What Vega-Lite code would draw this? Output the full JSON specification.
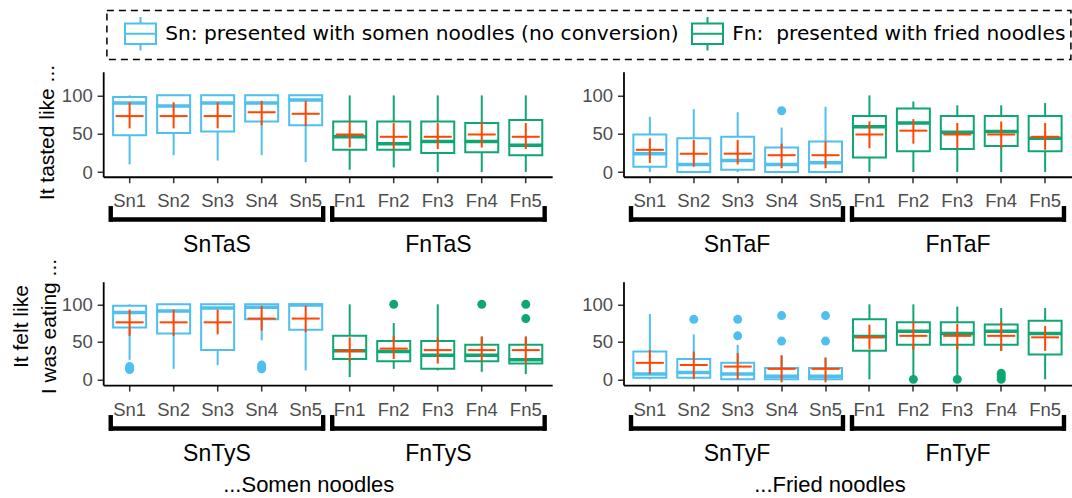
{
  "$schema": "https://vega.github.io/schema/vega-lite/v6.json",
  "padding": {"left": 10.2, "top": 9.75, "right": 0, "bottom": 0},
  "autosize": {"type": "pad"},
  "columns": 2,
  "bounds": "flush",
  "align": "each",
  "spacing": {"row": 10, "column": 71.3},
  "config": {
    "view": {"stroke": null},
    "font": "Liberation Sans",
    "axis": {"labelFont": "Liberation Sans", "titleFont": "Liberation Sans", "labelFontSize": 18.5, "labelColor": "#4D4D4D", "domainColor": "black", "domainWidth": 1.8, "tickColor": "#333333", "tickWidth": 1.5, "titleFontWeight": "normal", "titleFontSize": 21, "titleColor": "black", "grid": false},
    "text": {"font": "Liberation Sans"}
  },
  "datasets": {
    "boxes": [
      {"p":"TS","item":"Sn1","g":"Sn","lo":10,"q1":48,"med":90,"q3":98,"hi":100,"mean":73,"clo":57,"chi":91},
      {"p":"TS","item":"Sn2","g":"Sn","lo":22,"q1":51,"med":86,"q3":100,"hi":100,"mean":73,"clo":57,"chi":91},
      {"p":"TS","item":"Sn3","g":"Sn","lo":15,"q1":53,"med":90,"q3":100,"hi":100,"mean":73,"clo":57,"chi":91},
      {"p":"TS","item":"Sn4","g":"Sn","lo":22,"q1":66,"med":90,"q3":100,"hi":100,"mean":78,"clo":61,"chi":93},
      {"p":"TS","item":"Sn5","g":"Sn","lo":13,"q1":61,"med":94,"q3":100,"hi":100,"mean":76,"clo":60,"chi":93},
      {"p":"TS","item":"Fn1","g":"Fn","lo":3,"q1":29,"med":46,"q3":66,"hi":100,"mean":49,"clo":32,"chi":66},
      {"p":"TS","item":"Fn2","g":"Fn","lo":6,"q1":29,"med":37,"q3":66,"hi":100,"mean":46,"clo":30,"chi":64},
      {"p":"TS","item":"Fn3","g":"Fn","lo":0,"q1":25,"med":40,"q3":66,"hi":100,"mean":46,"clo":30,"chi":64},
      {"p":"TS","item":"Fn4","g":"Fn","lo":0,"q1":26,"med":40,"q3":64,"hi":100,"mean":49,"clo":32,"chi":65},
      {"p":"TS","item":"Fn5","g":"Fn","lo":0,"q1":22,"med":35,"q3":68,"hi":100,"mean":46,"clo":30,"chi":64},
      {"p":"TF","item":"Sn1","g":"Sn","lo":0,"q1":7,"med":24,"q3":49,"hi":72,"mean":29,"clo":12,"chi":44},
      {"p":"TF","item":"Sn2","g":"Sn","lo":0,"q1":0,"med":10,"q3":44,"hi":82,"mean":24,"clo":7,"chi":42},
      {"p":"TF","item":"Sn3","g":"Sn","lo":0,"q1":3,"med":15,"q3":46,"hi":78,"mean":24,"clo":10,"chi":42},
      {"p":"TF","item":"Sn4","g":"Sn","lo":0,"q1":0,"med":10,"q3":32,"hi":58,"mean":22,"clo":5,"chi":37},
      {"p":"TF","item":"Sn5","g":"Sn","lo":0,"q1":0,"med":12,"q3":40,"hi":85,"mean":22,"clo":5,"chi":40},
      {"p":"TF","item":"Fn1","g":"Fn","lo":0,"q1":19,"med":59,"q3":73,"hi":100,"mean":49,"clo":31,"chi":66},
      {"p":"TF","item":"Fn2","g":"Fn","lo":0,"q1":27,"med":64,"q3":83,"hi":92,"mean":54,"clo":37,"chi":69},
      {"p":"TF","item":"Fn3","g":"Fn","lo":0,"q1":30,"med":52,"q3":73,"hi":87,"mean":49,"clo":31,"chi":64},
      {"p":"TF","item":"Fn4","g":"Fn","lo":0,"q1":34,"med":53,"q3":73,"hi":87,"mean":49,"clo":31,"chi":66},
      {"p":"TF","item":"Fn5","g":"Fn","lo":0,"q1":27,"med":44,"q3":73,"hi":90,"mean":46,"clo":29,"chi":64},
      {"p":"YS","item":"Sn1","g":"Sn","lo":26,"q1":69,"med":89,"q3":98,"hi":100,"mean":76,"clo":58,"chi":93},
      {"p":"YS","item":"Sn2","g":"Sn","lo":14,"q1":61,"med":91,"q3":100,"hi":100,"mean":76,"clo":58,"chi":93},
      {"p":"YS","item":"Sn3","g":"Sn","lo":19,"q1":39,"med":95,"q3":100,"hi":100,"mean":76,"clo":60,"chi":93},
      {"p":"YS","item":"Sn4","g":"Sn","lo":52,"q1":80,"med":96,"q3":100,"hi":100,"mean":81,"clo":65,"chi":98},
      {"p":"YS","item":"Sn5","g":"Sn","lo":12,"q1":66,"med":99,"q3":100,"hi":100,"mean":81,"clo":63,"chi":98},
      {"p":"YS","item":"Fn1","g":"Fn","lo":3,"q1":27,"med":38,"q3":58,"hi":100,"mean":38,"clo":24,"chi":56},
      {"p":"YS","item":"Fn2","g":"Fn","lo":14,"q1":24,"med":37,"q3":51,"hi":75,"mean":41,"clo":27,"chi":58},
      {"p":"YS","item":"Fn3","g":"Fn","lo":12,"q1":14,"med":32,"q3":51,"hi":100,"mean":39,"clo":21,"chi":56},
      {"p":"YS","item":"Fn4","g":"Fn","lo":10,"q1":24,"med":32,"q3":46,"hi":57,"mean":39,"clo":24,"chi":57},
      {"p":"YS","item":"Fn5","g":"Fn","lo":7,"q1":21,"med":26,"q3":46,"hi":57,"mean":39,"clo":21,"chi":57},
      {"p":"YF","item":"Sn1","g":"Sn","lo":0,"q1":2,"med":7,"q3":37,"hi":87,"mean":22,"clo":7,"chi":39},
      {"p":"YF","item":"Sn2","g":"Sn","lo":0,"q1":2,"med":9,"q3":27,"hi":60,"mean":19,"clo":1,"chi":37},
      {"p":"YF","item":"Sn3","g":"Sn","lo":0,"q1":0,"med":7,"q3":22,"hi":46,"mean":17,"clo":0,"chi":35},
      {"p":"YF","item":"Sn4","g":"Sn","lo":0,"q1":0,"med":4,"q3":15,"hi":32,"mean":14,"clo":-4,"chi":32},
      {"p":"YF","item":"Sn5","g":"Sn","lo":0,"q1":0,"med":4,"q3":15,"hi":29,"mean":14,"clo":-4,"chi":29},
      {"p":"YF","item":"Fn1","g":"Fn","lo":0,"q1":38,"med":57,"q3":80,"hi":100,"mean":56,"clo":40,"chi":73},
      {"p":"YF","item":"Fn2","g":"Fn","lo":4,"q1":46,"med":64,"q3":76,"hi":100,"mean":58,"clo":39,"chi":77},
      {"p":"YF","item":"Fn3","g":"Fn","lo":4,"q1":46,"med":61,"q3":76,"hi":97,"mean":58,"clo":40,"chi":74},
      {"p":"YF","item":"Fn4","g":"Fn","lo":38,"q1":46,"med":64,"q3":73,"hi":95,"mean":58,"clo":38,"chi":77},
      {"p":"YF","item":"Fn5","g":"Fn","lo":0,"q1":33,"med":61,"q3":78,"hi":95,"mean":56,"clo":38,"chi":71}
    ],
    "outl": [
      {"p":"TF","item":"Sn4","g":"Sn","v":80},
      {"p":"YS","item":"Sn1","g":"Sn","v":13},
      {"p":"YS","item":"Sn1","g":"Sn","v":15},
      {"p":"YS","item":"Sn1","g":"Sn","v":17},
      {"p":"YS","item":"Sn4","g":"Sn","v":14},
      {"p":"YS","item":"Sn4","g":"Sn","v":16},
      {"p":"YS","item":"Sn4","g":"Sn","v":19},
      {"p":"YS","item":"Fn2","g":"Fn","v":100},
      {"p":"YS","item":"Fn4","g":"Fn","v":100},
      {"p":"YS","item":"Fn5","g":"Fn","v":100},
      {"p":"YS","item":"Fn5","g":"Fn","v":81},
      {"p":"YF","item":"Sn2","g":"Sn","v":80},
      {"p":"YF","item":"Sn3","g":"Sn","v":80},
      {"p":"YF","item":"Sn3","g":"Sn","v":58},
      {"p":"YF","item":"Sn4","g":"Sn","v":85},
      {"p":"YF","item":"Sn4","g":"Sn","v":51},
      {"p":"YF","item":"Sn5","g":"Sn","v":85},
      {"p":"YF","item":"Sn5","g":"Sn","v":51},
      {"p":"YF","item":"Fn2","g":"Fn","v":0},
      {"p":"YF","item":"Fn3","g":"Fn","v":0},
      {"p":"YF","item":"Fn4","g":"Fn","v":0},
      {"p":"YF","item":"Fn4","g":"Fn","v":3},
      {"p":"YF","item":"Fn4","g":"Fn","v":6},
      {"p":"YF","item":"Fn4","g":"Fn","v":8}
    ],
    "grps": [
      {"p":"TS","grp":"SnTaS"},{"p":"TS","grp":"FnTaS"},
      {"p":"TF","grp":"SnTaF"},{"p":"TF","grp":"FnTaF"},
      {"p":"YS","grp":"SnTyS"},{"p":"YS","grp":"FnTyS"},
      {"p":"YF","grp":"SnTyF"},{"p":"YF","grp":"FnTyF"}
    ]
  },
  "concat": [
    {
      "width": 449, "height": 105,
      "encoding": {"x": {"field": "item", "type": "nominal", "scale": {"type": "band", "domain": ["Sn1","Sn2","Sn3","Sn4","Sn5","Fn1","Fn2","Fn3","Fn4","Fn5"], "paddingInner": 0.25, "paddingOuter": 0.225}, "axis": {"title": null, "labelAngle": 0, "tickSize": 6, "labelPadding": 9}}},
      "layer": [
        {"data": {"name": "boxes"}, "transform": [{"filter": "datum.p == 'TS'"}], "mark": {"type": "rule", "strokeWidth": 2}, "encoding": {
          "y": {"field": "lo", "type": "quantitative", "scale": {"domain": [-6.1, 130.8], "nice": false, "zero": false}, "axis": {"title": "It tasted like ...", "values": [0, 50, 100], "tickSize": 6, "labelPadding": 5, "titleX": -55.3, "titleY": 60.3, "titleBaseline": "middle"}},
          "y2": {"field": "q1"},
          "color": {"field": "g", "type": "nominal", "title": null, "scale": {"domain": ["Sn", "Fn"], "range": ["#4FBFEF", "#10A674"]}, "legend": {
            "orient": "none", "legendX": 3.7, "legendY": -61.2, "direction": "horizontal", "padding": 5, "strokeColor": "black",
            "symbolType": "M-0.93,-0.62H0.93V0.62H-0.93Z M-0.93,0H0.93 M0,-0.62V-1 M0,0.62V1",
            "symbolSize": 1110, "symbolStrokeWidth": 2, "symbolFillColor": "transparent", "symbolOffset": 10.6,
            "labelFont": "DejaVu Sans", "labelFontSize": 20.2, "labelColor": "black", "labelLimit": 2000, "labelOffset": 6.7, "columnPadding": 0,
            "labelExpr": "datum.value == 'Sn' ? 'Sn: presented with somen noodles (no conversion)' : 'Fn:\u00a0 presented with fried noodles'",
            "encode": {"legend": {"update": {"strokeDash": {"value": [7, 5]}, "strokeWidth": {"value": 1.5}}}, "symbols": {"update": {"fill": {"value": "transparent"}, "fillOpacity": {"value": 0}, "stroke": {"scale": "color", "field": "value"}}}}
          }}
        }},
        {"data": {"name": "boxes"}, "transform": [{"filter": "datum.p == 'TS'"}], "mark": {"type": "rule", "strokeWidth": 2}, "encoding": {"y": {"field": "q3", "type": "quantitative", "axis": {"title": "It tasted like ...", "values": [0, 50, 100], "tickSize": 6, "labelPadding": 5, "titleX": -55.3, "titleY": 60.3, "titleBaseline": "middle"}}, "y2": {"field": "hi"}, "color": {"field": "g", "type": "nominal", "title": null}}},
        {"data": {"name": "boxes"}, "transform": [{"filter": "datum.p == 'TS'"}], "mark": {"type": "bar", "filled": false, "strokeWidth": 2, "opacity": 1}, "encoding": {"y": {"field": "q1", "type": "quantitative", "axis": {"title": "It tasted like ...", "values": [0, 50, 100], "tickSize": 6, "labelPadding": 5, "titleX": -55.3, "titleY": 60.3, "titleBaseline": "middle"}}, "y2": {"field": "q3"}, "color": {"field": "g", "type": "nominal", "title": null}}},
        {"data": {"name": "boxes"}, "transform": [{"filter": "datum.p == 'TS'"}], "mark": {"type": "tick", "thickness": 3.5, "size": 34, "opacity": 1}, "encoding": {"y": {"field": "med", "type": "quantitative", "axis": {"title": "It tasted like ...", "values": [0, 50, 100], "tickSize": 6, "labelPadding": 5, "titleX": -55.3, "titleY": 60.3, "titleBaseline": "middle"}}, "color": {"field": "g", "type": "nominal", "title": null}}},
        {"data": {"name": "boxes"}, "transform": [{"filter": "datum.p == 'TS'"}], "mark": {"type": "rule", "strokeWidth": 2, "color": "#FF4500"}, "encoding": {"y": {"field": "clo", "type": "quantitative", "axis": {"title": "It tasted like ...", "values": [0, 50, 100], "tickSize": 6, "labelPadding": 5, "titleX": -55.3, "titleY": 60.3, "titleBaseline": "middle"}}, "y2": {"field": "chi"}}},
        {"data": {"name": "boxes"}, "transform": [{"filter": "datum.p == 'TS'"}], "mark": {"type": "tick", "thickness": 2, "size": 28, "color": "#FF4500", "opacity": 1}, "encoding": {"y": {"field": "mean", "type": "quantitative", "axis": {"title": "It tasted like ...", "values": [0, 50, 100], "tickSize": 6, "labelPadding": 5, "titleX": -55.3, "titleY": 60.3, "titleBaseline": "middle"}}}}
      ]
    },
    {
      "width": 448, "height": 105,
      "encoding": {"x": {"field": "item", "type": "nominal", "scale": {"type": "band", "domain": ["Sn1","Sn2","Sn3","Sn4","Sn5","Fn1","Fn2","Fn3","Fn4","Fn5"], "paddingInner": 0.25, "paddingOuter": 0.225}, "axis": {"title": null, "labelAngle": 0, "tickSize": 6, "labelPadding": 9}}},
      "layer": [
        {"data": {"name": "boxes"}, "transform": [{"filter": "datum.p == 'TF'"}], "mark": {"type": "rule", "strokeWidth": 2}, "encoding": {
          "y": {"field": "lo", "type": "quantitative", "scale": {"domain": [-6.1, 130.8], "nice": false, "zero": false}, "axis": {"title": null, "values": [0, 50, 100], "tickSize": 6, "labelPadding": 5}},
          "y2": {"field": "q1"}, "color": {"field": "g", "type": "nominal", "title": null}}},
        {"data": {"name": "boxes"}, "transform": [{"filter": "datum.p == 'TF'"}], "mark": {"type": "rule", "strokeWidth": 2}, "encoding": {"y": {"field": "q3", "type": "quantitative", "axis": {"title": null, "values": [0, 50, 100], "tickSize": 6, "labelPadding": 5}}, "y2": {"field": "hi"}, "color": {"field": "g", "type": "nominal", "title": null}}},
        {"data": {"name": "boxes"}, "transform": [{"filter": "datum.p == 'TF'"}], "mark": {"type": "bar", "filled": false, "strokeWidth": 2, "opacity": 1}, "encoding": {"y": {"field": "q1", "type": "quantitative", "axis": {"title": null, "values": [0, 50, 100], "tickSize": 6, "labelPadding": 5}}, "y2": {"field": "q3"}, "color": {"field": "g", "type": "nominal", "title": null}}},
        {"data": {"name": "boxes"}, "transform": [{"filter": "datum.p == 'TF'"}], "mark": {"type": "tick", "thickness": 3.5, "size": 34, "opacity": 1}, "encoding": {"y": {"field": "med", "type": "quantitative", "axis": {"title": null, "values": [0, 50, 100], "tickSize": 6, "labelPadding": 5}}, "color": {"field": "g", "type": "nominal", "title": null}}},
        {"data": {"name": "boxes"}, "transform": [{"filter": "datum.p == 'TF'"}], "mark": {"type": "rule", "strokeWidth": 2, "color": "#FF4500"}, "encoding": {"y": {"field": "clo", "type": "quantitative", "axis": {"title": null, "values": [0, 50, 100], "tickSize": 6, "labelPadding": 5}}, "y2": {"field": "chi"}}},
        {"data": {"name": "boxes"}, "transform": [{"filter": "datum.p == 'TF'"}], "mark": {"type": "tick", "thickness": 2, "size": 28, "color": "#FF4500", "opacity": 1}, "encoding": {"y": {"field": "mean", "type": "quantitative", "axis": {"title": null, "values": [0, 50, 100], "tickSize": 6, "labelPadding": 5}}}},
        {"data": {"name": "outl"}, "transform": [{"filter": "datum.p == 'TF'"}], "mark": {"type": "circle", "size": 80, "opacity": 1}, "encoding": {"y": {"field": "v", "type": "quantitative", "axis": {"title": null, "values": [0, 50, 100], "tickSize": 6, "labelPadding": 5}}, "color": {"field": "g", "type": "nominal", "title": null}}}
      ]
    },
    {
      "width": 449, "height": 85,
      "data": {"name": "grps"}, "transform": [{"filter": "datum.p == 'TS'"}],
      "encoding": {"x": {"field": "grp", "type": "nominal", "scale": {"type": "band", "domain": ["SnTaS", "FnTaS"], "paddingInner": 0.0408, "paddingOuter": 0.034}, "axis": null}},
      "layer": [
        {"mark": {"type": "tick", "thickness": 4.4, "size": 216, "color": "black", "opacity": 1}, "encoding": {"y": {"datum": 0.386, "type": "quantitative", "scale": {"domain": [0, 1], "reverse": true}, "axis": null}}},
        {"mark": {"type": "rule", "strokeWidth": 4.4, "color": "black"}, "encoding": {"x": {"field": "grp", "type": "nominal", "bandPosition": 0, "axis": null}, "y": {"datum": 0.227, "type": "quantitative", "axis": null}, "y2": {"datum": 0.412}}},
        {"mark": {"type": "rule", "strokeWidth": 4.4, "color": "black"}, "encoding": {"x": {"field": "grp", "type": "nominal", "bandPosition": 1, "axis": null}, "y": {"datum": 0.227, "type": "quantitative", "axis": null}, "y2": {"datum": 0.412}}},
        {"mark": {"type": "text", "fontSize": 23, "color": "black", "baseline": "middle"}, "encoding": {"y": {"datum": 0.689, "type": "quantitative", "axis": null}, "text": {"field": "grp"}}}
      ]
    },
    {
      "width": 448, "height": 85,
      "data": {"name": "grps"}, "transform": [{"filter": "datum.p == 'TF'"}],
      "encoding": {"x": {"field": "grp", "type": "nominal", "scale": {"type": "band", "domain": ["SnTaF", "FnTaF"], "paddingInner": 0.0408, "paddingOuter": 0.034}, "axis": null}},
      "layer": [
        {"mark": {"type": "tick", "thickness": 4.4, "size": 216, "color": "black", "opacity": 1}, "encoding": {"y": {"datum": 0.386, "type": "quantitative", "scale": {"domain": [0, 1], "reverse": true}, "axis": null}}},
        {"mark": {"type": "rule", "strokeWidth": 4.4, "color": "black"}, "encoding": {"x": {"field": "grp", "type": "nominal", "bandPosition": 0, "axis": null}, "y": {"datum": 0.227, "type": "quantitative", "axis": null}, "y2": {"datum": 0.412}}},
        {"mark": {"type": "rule", "strokeWidth": 4.4, "color": "black"}, "encoding": {"x": {"field": "grp", "type": "nominal", "bandPosition": 1, "axis": null}, "y": {"datum": 0.227, "type": "quantitative", "axis": null}, "y2": {"datum": 0.412}}},
        {"mark": {"type": "text", "fontSize": 23, "color": "black", "baseline": "middle"}, "encoding": {"y": {"datum": 0.689, "type": "quantitative", "axis": null}, "text": {"field": "grp"}}}
      ]
    },
    {
      "width": 449, "height": 103.3,
      "encoding": {"x": {"field": "item", "type": "nominal", "scale": {"type": "band", "domain": ["Sn1","Sn2","Sn3","Sn4","Sn5","Fn1","Fn2","Fn3","Fn4","Fn5"], "paddingInner": 0.25, "paddingOuter": 0.225}, "axis": {"title": null, "labelAngle": 0, "tickSize": 6, "labelPadding": 9}}},
      "layer": [
        {"data": {"name": "boxes"}, "transform": [{"filter": "datum.p == 'YS'"}], "mark": {"type": "rule", "strokeWidth": 2}, "encoding": {
          "y": {"field": "lo", "type": "quantitative", "scale": {"domain": [-7.6, 130.1], "nice": false, "zero": false}, "axis": {"title": ["It felt like", "I was eating ..."], "values": [0, 50, 100], "tickSize": 6, "labelPadding": 5, "titleX": -82, "titleY": 44.3, "titleBaseline": "middle", "titleLineHeight": 28}},
          "y2": {"field": "q1"}, "color": {"field": "g", "type": "nominal", "title": null}}},
        {"data": {"name": "boxes"}, "transform": [{"filter": "datum.p == 'YS'"}], "mark": {"type": "rule", "strokeWidth": 2}, "encoding": {"y": {"field": "q3", "type": "quantitative", "axis": {"title": ["It felt like", "I was eating ..."], "values": [0, 50, 100], "tickSize": 6, "labelPadding": 5, "titleX": -82, "titleY": 44.3, "titleBaseline": "middle", "titleLineHeight": 28}}, "y2": {"field": "hi"}, "color": {"field": "g", "type": "nominal", "title": null}}},
        {"data": {"name": "boxes"}, "transform": [{"filter": "datum.p == 'YS'"}], "mark": {"type": "bar", "filled": false, "strokeWidth": 2, "opacity": 1}, "encoding": {"y": {"field": "q1", "type": "quantitative", "axis": {"title": ["It felt like", "I was eating ..."], "values": [0, 50, 100], "tickSize": 6, "labelPadding": 5, "titleX": -82, "titleY": 44.3, "titleBaseline": "middle", "titleLineHeight": 28}}, "y2": {"field": "q3"}, "color": {"field": "g", "type": "nominal", "title": null}}},
        {"data": {"name": "boxes"}, "transform": [{"filter": "datum.p == 'YS'"}], "mark": {"type": "tick", "thickness": 3.5, "size": 34, "opacity": 1}, "encoding": {"y": {"field": "med", "type": "quantitative", "axis": {"title": ["It felt like", "I was eating ..."], "values": [0, 50, 100], "tickSize": 6, "labelPadding": 5, "titleX": -82, "titleY": 44.3, "titleBaseline": "middle", "titleLineHeight": 28}}, "color": {"field": "g", "type": "nominal", "title": null}}},
        {"data": {"name": "boxes"}, "transform": [{"filter": "datum.p == 'YS'"}], "mark": {"type": "rule", "strokeWidth": 2, "color": "#FF4500"}, "encoding": {"y": {"field": "clo", "type": "quantitative", "axis": {"title": ["It felt like", "I was eating ..."], "values": [0, 50, 100], "tickSize": 6, "labelPadding": 5, "titleX": -82, "titleY": 44.3, "titleBaseline": "middle", "titleLineHeight": 28}}, "y2": {"field": "chi"}}},
        {"data": {"name": "boxes"}, "transform": [{"filter": "datum.p == 'YS'"}], "mark": {"type": "tick", "thickness": 2, "size": 28, "color": "#FF4500", "opacity": 1}, "encoding": {"y": {"field": "mean", "type": "quantitative", "axis": {"title": ["It felt like", "I was eating ..."], "values": [0, 50, 100], "tickSize": 6, "labelPadding": 5, "titleX": -82, "titleY": 44.3, "titleBaseline": "middle", "titleLineHeight": 28}}}},
        {"data": {"name": "outl"}, "transform": [{"filter": "datum.p == 'YS'"}], "mark": {"type": "circle", "size": 80, "opacity": 1}, "encoding": {"y": {"field": "v", "type": "quantitative", "axis": {"title": ["It felt like", "I was eating ..."], "values": [0, 50, 100], "tickSize": 6, "labelPadding": 5, "titleX": -82, "titleY": 44.3, "titleBaseline": "middle", "titleLineHeight": 28}}, "color": {"field": "g", "type": "nominal", "title": null}}}
      ]
    },
    {
      "width": 448, "height": 103.3,
      "encoding": {"x": {"field": "item", "type": "nominal", "scale": {"type": "band", "domain": ["Sn1","Sn2","Sn3","Sn4","Sn5","Fn1","Fn2","Fn3","Fn4","Fn5"], "paddingInner": 0.25, "paddingOuter": 0.225}, "axis": {"title": null, "labelAngle": 0, "tickSize": 6, "labelPadding": 9}}},
      "layer": [
        {"data": {"name": "boxes"}, "transform": [{"filter": "datum.p == 'YF'"}], "mark": {"type": "rule", "strokeWidth": 2}, "encoding": {
          "y": {"field": "lo", "type": "quantitative", "scale": {"domain": [-7.6, 130.1], "nice": false, "zero": false}, "axis": {"title": null, "values": [0, 50, 100], "tickSize": 6, "labelPadding": 5}},
          "y2": {"field": "q1"}, "color": {"field": "g", "type": "nominal", "title": null}}},
        {"data": {"name": "boxes"}, "transform": [{"filter": "datum.p == 'YF'"}], "mark": {"type": "rule", "strokeWidth": 2}, "encoding": {"y": {"field": "q3", "type": "quantitative", "axis": {"title": null, "values": [0, 50, 100], "tickSize": 6, "labelPadding": 5}}, "y2": {"field": "hi"}, "color": {"field": "g", "type": "nominal", "title": null}}},
        {"data": {"name": "boxes"}, "transform": [{"filter": "datum.p == 'YF'"}], "mark": {"type": "bar", "filled": false, "strokeWidth": 2, "opacity": 1}, "encoding": {"y": {"field": "q1", "type": "quantitative", "axis": {"title": null, "values": [0, 50, 100], "tickSize": 6, "labelPadding": 5}}, "y2": {"field": "q3"}, "color": {"field": "g", "type": "nominal", "title": null}}},
        {"data": {"name": "boxes"}, "transform": [{"filter": "datum.p == 'YF'"}], "mark": {"type": "tick", "thickness": 3.5, "size": 34, "opacity": 1}, "encoding": {"y": {"field": "med", "type": "quantitative", "axis": {"title": null, "values": [0, 50, 100], "tickSize": 6, "labelPadding": 5}}, "color": {"field": "g", "type": "nominal", "title": null}}},
        {"data": {"name": "boxes"}, "transform": [{"filter": "datum.p == 'YF'"}], "mark": {"type": "rule", "strokeWidth": 2, "color": "#FF4500"}, "encoding": {"y": {"field": "clo", "type": "quantitative", "axis": {"title": null, "values": [0, 50, 100], "tickSize": 6, "labelPadding": 5}}, "y2": {"field": "chi"}}},
        {"data": {"name": "boxes"}, "transform": [{"filter": "datum.p == 'YF'"}], "mark": {"type": "tick", "thickness": 2, "size": 28, "color": "#FF4500", "opacity": 1}, "encoding": {"y": {"field": "mean", "type": "quantitative", "axis": {"title": null, "values": [0, 50, 100], "tickSize": 6, "labelPadding": 5}}}},
        {"data": {"name": "outl"}, "transform": [{"filter": "datum.p == 'YF'"}], "mark": {"type": "circle", "size": 80, "opacity": 1}, "encoding": {"y": {"field": "v", "type": "quantitative", "axis": {"title": null, "values": [0, 50, 100], "tickSize": 6, "labelPadding": 5}}, "color": {"field": "g", "type": "nominal", "title": null}}}
      ]
    },
    {
      "width": 449, "height": 85,
      "data": {"name": "grps"}, "transform": [{"filter": "datum.p == 'YS'"}],
      "encoding": {"x": {"field": "grp", "type": "nominal", "scale": {"type": "band", "domain": ["SnTyS", "FnTyS"], "paddingInner": 0.0408, "paddingOuter": 0.034}, "axis": {"title": "...Somen noodles", "labels": false, "ticks": false, "domain": false, "titleFontSize": 22, "titleX": 205, "titleY": -6, "titleBaseline": "top", "titleAlign": "center"}}},
      "layer": [
        {"mark": {"type": "tick", "thickness": 4.4, "size": 216, "color": "black", "opacity": 1}, "encoding": {"y": {"datum": 0.386, "type": "quantitative", "scale": {"domain": [0, 1], "reverse": true}, "axis": null}}},
        {"mark": {"type": "rule", "strokeWidth": 4.4, "color": "black"}, "encoding": {"x": {"field": "grp", "type": "nominal", "bandPosition": 0, "axis": {"title": "...Somen noodles", "labels": false, "ticks": false, "domain": false, "titleFontSize": 22, "titleX": 205, "titleY": -6, "titleBaseline": "top", "titleAlign": "center"}}, "y": {"datum": 0.227, "type": "quantitative", "axis": null}, "y2": {"datum": 0.412}}},
        {"mark": {"type": "rule", "strokeWidth": 4.4, "color": "black"}, "encoding": {"x": {"field": "grp", "type": "nominal", "bandPosition": 1, "axis": {"title": "...Somen noodles", "labels": false, "ticks": false, "domain": false, "titleFontSize": 22, "titleX": 205, "titleY": -6, "titleBaseline": "top", "titleAlign": "center"}}, "y": {"datum": 0.227, "type": "quantitative", "axis": null}, "y2": {"datum": 0.412}}},
        {"mark": {"type": "text", "fontSize": 23, "color": "black", "baseline": "middle"}, "encoding": {"y": {"datum": 0.689, "type": "quantitative", "axis": null}, "text": {"field": "grp"}}}
      ]
    },
    {
      "width": 448, "height": 85,
      "data": {"name": "grps"}, "transform": [{"filter": "datum.p == 'YF'"}],
      "encoding": {"x": {"field": "grp", "type": "nominal", "scale": {"type": "band", "domain": ["SnTyF", "FnTyF"], "paddingInner": 0.0408, "paddingOuter": 0.034}, "axis": {"title": "...Fried noodles", "labels": false, "ticks": false, "domain": false, "titleFontSize": 22, "titleX": 206, "titleY": -6, "titleBaseline": "top", "titleAlign": "center"}}},
      "layer": [
        {"mark": {"type": "tick", "thickness": 4.4, "size": 216, "color": "black", "opacity": 1}, "encoding": {"y": {"datum": 0.386, "type": "quantitative", "scale": {"domain": [0, 1], "reverse": true}, "axis": null}}},
        {"mark": {"type": "rule", "strokeWidth": 4.4, "color": "black"}, "encoding": {"x": {"field": "grp", "type": "nominal", "bandPosition": 0, "axis": {"title": "...Fried noodles", "labels": false, "ticks": false, "domain": false, "titleFontSize": 22, "titleX": 206, "titleY": -6, "titleBaseline": "top", "titleAlign": "center"}}, "y": {"datum": 0.227, "type": "quantitative", "axis": null}, "y2": {"datum": 0.412}}},
        {"mark": {"type": "rule", "strokeWidth": 4.4, "color": "black"}, "encoding": {"x": {"field": "grp", "type": "nominal", "bandPosition": 1, "axis": {"title": "...Fried noodles", "labels": false, "ticks": false, "domain": false, "titleFontSize": 22, "titleX": 206, "titleY": -6, "titleBaseline": "top", "titleAlign": "center"}}, "y": {"datum": 0.227, "type": "quantitative", "axis": null}, "y2": {"datum": 0.412}}},
        {"mark": {"type": "text", "fontSize": 23, "color": "black", "baseline": "middle"}, "encoding": {"y": {"datum": 0.689, "type": "quantitative", "axis": null}, "text": {"field": "grp"}}}
      ]
    }
  ]
}
